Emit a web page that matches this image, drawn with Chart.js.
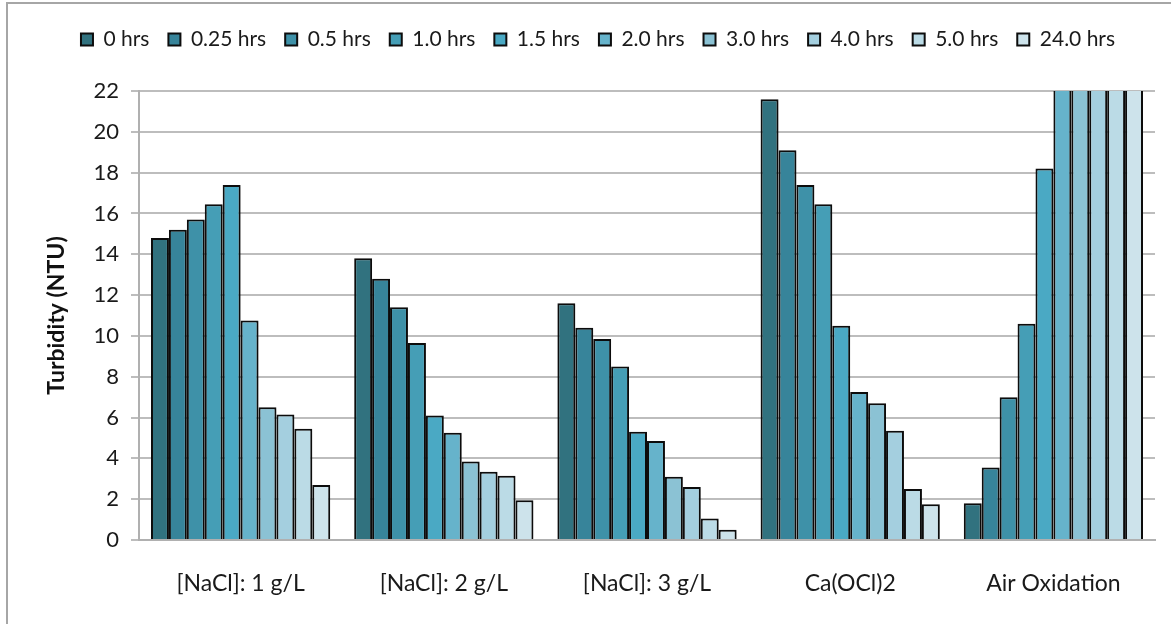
<!DOCTYPE html>
<html>
<head>
<meta charset="utf-8">
<script src="https://cdn.jsdelivr.net/npm/chart.js@4.4.1/dist/chart.umd.min.js"></script>
<style>
  html, body { margin: 0; padding: 0; background: #fff; }
  #wrap { position: relative; width: 1171px; height: 624px; }
  #frame { position: absolute; left: 6px; top: 2px; width: 1170px; height: 630px;
           border-left: 2px solid #a6a6a6; border-top: 2px solid #a6a6a6; box-sizing: border-box; pointer-events: none; }
  canvas { position: absolute; left: 0; top: 0; }
</style>
</head>
<body>
<div id="wrap">
  <canvas id="c" width="1171" height="624"></canvas>
  <div id="frame"></div>
</div>
<script>
const categories = ['[NaCl]: 1 g/L', '[NaCl]: 2 g/L', '[NaCl]: 3 g/L', 'Ca(OCl)2', 'Air Oxidation'];
const seriesNames = ['0 hrs', '0.25 hrs', '0.5 hrs', '1.0 hrs', '1.5 hrs', '2.0 hrs', '3.0 hrs', '4.0 hrs', '5.0 hrs', '24.0 hrs'];
// values per time step, across the 5 categories (Air Oxidation 2.0–24.0 hrs are off-scale, clipped at 22)
const hrs0    = [14.8, 13.8, 11.6, 21.6, 1.8];
const hrs025  = [15.2, 12.8, 10.4, 19.1, 3.55];
const hrs05   = [15.7, 11.4, 9.85, 17.4, 7.0];
const hrs10   = [16.45, 9.65, 8.5, 16.45, 10.6];
const hrs15   = [17.4, 6.1, 5.3, 10.5, 18.2];
const hrs20   = [10.75, 5.25, 4.85, 7.25, 25];
const hrs30   = [6.5, 3.85, 3.1, 6.7, 25];
const hrs40   = [6.15, 3.35, 2.6, 5.35, 25];
const hrs50   = [5.45, 3.15, 1.05, 2.5, 25];
const hrs240  = [2.7, 1.95, 0.5, 1.75, 25];
const yTicks  = [0, 2, 4, 6, 8, 10, 12, 14, 16, 18, 20, 22];

const allValues = [hrs0, hrs025, hrs05, hrs10, hrs15, hrs20, hrs30, hrs40, hrs50, hrs240];
const colors = ['#31727f', '#37849a', '#3e91a8', '#459eb6', '#4aa9c4', '#66b3cb', '#8bc2d4', '#a4cfdf', '#bbdbe6', '#cde3eb'];

const FONT = 'Lato, "Open Sans", sans-serif';

const datasets = seriesNames.map((name, i) => ({
  label: name,
  data: allValues[i],
  backgroundColor: colors[i],
  borderColor: '#0d0d0d',
  borderWidth: 2,
  borderSkipped: 'bottom',
  barPercentage: 1.0,
  categoryPercentage: 0.882,
  clip: 0
}));

const LEFT_PAD = 41;

const barShadow = {
  id: 'barShadow',
  beforeDatasetsDraw(chart) {
    const ctx = chart.ctx;
    ctx.save();
    ctx.shadowColor = 'rgba(0,0,0,0.18)';
    ctx.shadowBlur = 3;
    ctx.shadowOffsetX = 2;
    ctx.shadowOffsetY = 1;
  },
  afterDatasetsDraw(chart) {
    chart.ctx.restore();
  }
};

const chart = new Chart(document.getElementById('c'), {
  type: 'bar',
  data: { labels: categories, datasets },
  plugins: [barShadow],
  options: {
    responsive: false,
    animation: false,
    devicePixelRatio: 1,
    layout: { padding: { left: LEFT_PAD, right: 16, top: 10, bottom: 0 } },
    plugins: {
      tooltip: { enabled: false },
      legend: {
        position: 'top',
        labels: {
          font: { family: FONT, size: 21 },
          color: '#1a1a1a',
          boxWidth: 12,
          boxHeight: 12,
          padding: 19
        }
      }
    },
    scales: {
      x: {
        grid: { display: false, drawTicks: false },
        border: { display: true, color: '#b0b0b0', width: 2 },
        ticks: { font: { family: FONT, size: 23 }, color: '#1a1a1a', padding: 30 },
        afterFit: (s) => { s.height = 84; }
      },
      y: {
        min: 0,
        max: 22,
        afterBuildTicks: (s) => { s.ticks = yTicks.map(v => ({ value: v })); },
        grid: { color: '#bdbdbd', lineWidth: 2, tickLength: 8, drawTicks: true },
        border: { display: true, color: '#b0b0b0', width: 2 },
        ticks: { font: { family: FONT, size: 22 }, color: '#1a1a1a', padding: 12 },
        title: { display: true, text: 'Turbidity (NTU)', font: { family: FONT, size: 23, weight: 'bold' }, color: '#111', padding: { top: 2, bottom: 0 } },
        afterFit: (s) => { s.width = 139 - LEFT_PAD; }
      }
    }
  }
});

// give the legend box extra height so the plot area starts where the reference does
const legendFit = chart.legend.fit;
chart.legend.fit = function () {
  legendFit.call(this);
  this.height += 31;
};
chart.update();
</script>
</body>
</html>
